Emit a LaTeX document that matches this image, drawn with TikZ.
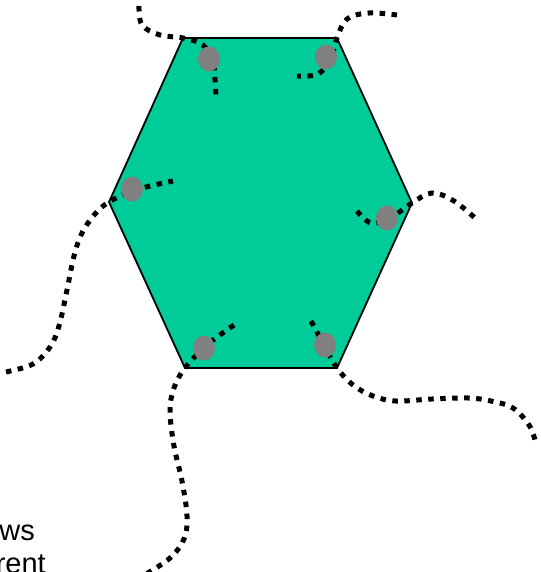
\documentclass[tikz,border=0pt]{standalone}
\usepackage{fontspec}
\setmainfont{Liberation Sans}
\usetikzlibrary{shapes.geometric}
\begin{document}
\begin{tikzpicture}[x=1pt,y=-1pt,
  hexface/.style={fill=hexgreen,draw=black,line width=1.8pt,line join=miter},
  wire/.style={line width=5pt,dash pattern=on 5.5pt off 6.5pt,line cap=butt},
  joint/.style={ellipse,fill=jointgray,draw=none,minimum width=22pt,minimum height=25pt,inner sep=0pt},
  lbl/.style={font=\fontsize{29}{33}\selectfont,inner sep=0pt,anchor=base east}]
\definecolor{hexgreen}{RGB}{0,204,153}
\definecolor{jointgray}{RGB}{128,128,128}
\useasboundingbox (0,0) rectangle (540,572);
% vertices
\coordinate (vtl) at (183,38);
\coordinate (vtr) at (337,38);
\coordinate (vr) at (412,203);
\coordinate (vbr) at (337,368);
\coordinate (vbl) at (185,368);
\coordinate (vl) at (109,202);
\draw[hexface] (vtl) -- (vtr) -- (vr) -- (vbr) -- (vbl) -- (vl) -- cycle;
% free ends
\coordinate (e1a) at (139,6);
\coordinate (e1b) at (216,96);
\coordinate (e2a) at (397,15);
\coordinate (e2b) at (297,76);
\coordinate (e3a) at (6,372);
\coordinate (e3b) at (173,181);
\coordinate (e4a) at (357,211);
\coordinate (e4b) at (476,219);
\coordinate (e5a) at (234,325);
\coordinate (e5b) at (146,574);
\coordinate (e6a) at (311,321);
\coordinate (e6b) at (535,440);
% wires
\draw[wire] plot[smooth,tension=0.6] coordinates {(e1a) (142,25) (160,35) (vtl) (203,45) (213,62) (215,80) (e1b)};
\draw[wire] plot[smooth,tension=0.6] coordinates {(e2a) (369,13) (347,19) (vtr) (331,58) (318,74) (e2b)};
\draw[wire] plot[smooth,tension=0.6] coordinates {(e3a) (33,364) (50,347) (59,326) (67,290) (74,256) (82,233) (95,214) (vl) (135,190) (e3b)};
\draw[wire] plot[smooth,tension=0.6] coordinates {(e4a) (371,223) (390,218) (vr) (432,193) (454,201) (e4b)};
\draw[wire] plot[smooth,tension=0.6] coordinates {(e5a) (207,345) (vbl) (174,388) (170,411) (174,446) (182,481) (187,516) (184,539) (170,558) (e5b)};
\draw[wire] plot[smooth,tension=0.6] coordinates {(e6a) (325,347) (vbr) (353,385) (373,396) (396,401) (432,399) (468,398) (491,401) (513,408) (529,425) (e6b)};
% joints
\node[joint] (j1) at (209,59) {};
\node[joint] (j2) at (326,57) {};
\node[joint] (j3) at (132,189) {};
\node[joint] (j4) at (387,218) {};
\node[joint] (j5) at (204,348) {};
\node[joint] (j6) at (325,345) {};
% text, cut at the picture's edges as in the reference
\node[lbl] (t1) at (35,540) {ws};
\node[lbl] (t2) at (46,573) {rent};
\end{tikzpicture}
\end{document}
